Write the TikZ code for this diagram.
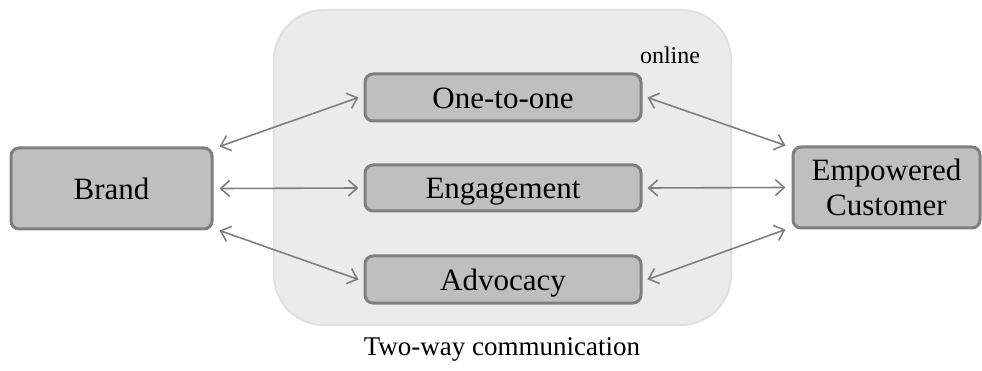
\documentclass[tikz,border=0pt]{standalone}
\usepackage{fontspec}
\setmainfont{Liberation Serif}
\usetikzlibrary{arrows.meta}
\definecolor{boxfill}{HTML}{BFBFBF}
\definecolor{boxline}{HTML}{7F7F7F}
\definecolor{webfill}{HTML}{EBEBEB}
\definecolor{webline}{HTML}{E0E0E0}
\tikzset{
  box/.style={draw=boxline,fill=boxfill,line width=3pt,rounded corners=8pt,
    inner sep=0pt,align=center,font=\fontsize{31}{35}\selectfont},
  line1/.style={text height=22pt,text depth=0pt},
  link/.style={draw=boxline,line width=1.6pt,
    {Straight Barb[length=9pt,width=16pt]}-{Straight Barb[length=9pt,width=16pt]}}
}

\begin{document}
\begin{tikzpicture}[x=1pt,y=-1pt]
\useasboundingbox (0,0) rectangle (982,371);
\draw[webline,fill=webfill,line width=2pt,rounded corners=50pt](274,10)rectangle(731,325);
\node[anchor=base,font=\fontsize{24}{28}\selectfont] (online) at (670,64) {online};
\node[box,line1,minimum width=201pt,minimum height=81pt] (brand) at (111.5,188.5) {Brand};
\node[box,line1,minimum width=276pt,minimum height=47pt] (one) at (503,97.5) {One-to-one};
\node[box,line1,minimum width=276pt,minimum height=46pt] (eng) at (503,188) {Engagement};
\node[box,line1,minimum width=276pt,minimum height=47pt] (adv) at (503,279.5) {Advocacy};
\node[box,minimum width=187pt,minimum height=81pt] (cust) at (886.5,187.5) {Empowered\\Customer};
\draw[link]([xshift=6pt]brand.north east)--([xshift=-5pt]one.west);
\draw[link]([xshift=6pt]brand.east)--([xshift=-5pt]eng.west);
\draw[link]([xshift=6pt]brand.south east)--([xshift=-5pt]adv.west);
\draw[link]([xshift=5pt]one.east)--([xshift=-6pt]cust.north west);
\draw[link]([xshift=5pt]eng.east)--([xshift=-6pt]cust.west);
\draw[link]([xshift=5pt]adv.east)--([xshift=-6pt]cust.south west);
\node[anchor=base,font=\fontsize{27}{31}\selectfont] (caption) at (502,355) {Two-way communication};
\end{tikzpicture}
\end{document}
